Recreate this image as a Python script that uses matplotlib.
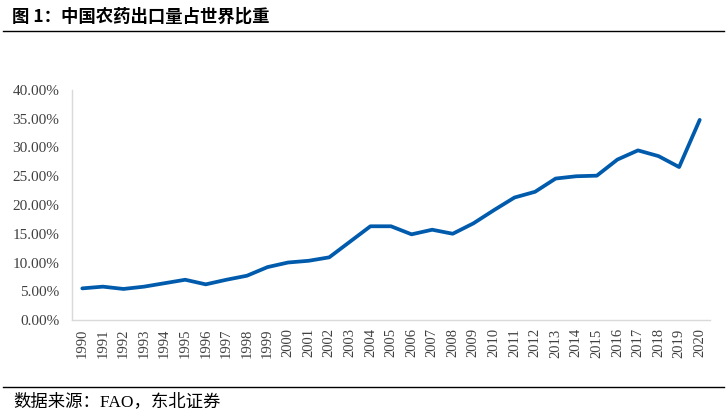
import matplotlib.pyplot as plt
from matplotlib.ticker import FuncFormatter
from matplotlib.lines import Line2D

# ------------------------------------------------------------
# Data: China's share of world pesticide exports (FAO)
# ------------------------------------------------------------
years = list(range(1990, 2021))
share = [5.5, 5.8, 5.4, 5.8, 6.4, 7.0, 6.2, 7.0, 7.7, 9.2,
         10.0, 10.3, 10.9, 13.6, 16.3, 16.3, 14.9, 15.7, 15.0, 16.8,
         19.1, 21.3, 22.3, 24.6, 25.0, 25.1, 27.9, 29.5, 28.5, 26.6,
         34.8]

y_ticks = [0, 5, 10, 15, 20, 25, 30, 35, 40]

title = "图 1：中国农药出口量占世界比重"
source = "数据来源：FAO，东北证券"

cjk = ["Noto Sans CJK SC", "DejaVu Sans"]
serif_cjk = ["Liberation Serif", "Noto Sans CJK SC"]

# ------------------------------------------------------------
# Figure
# ------------------------------------------------------------
fig = plt.figure(figsize=(7.28, 4.13), dpi=100)
ax = fig.add_axes([72 / 728, 1 - 320 / 413, (710 - 72) / 728, (320 - 90) / 413])

ax.plot(years, share, color="#005BAC", linewidth=2.7, solid_capstyle="round")

ax.set_xlim(years[0] - 0.5, years[-1] + 0.5)
ax.set_ylim(0, 40)
ax.set_xticks(years)
ax.set_xticklabels([str(y) for y in years], rotation=90,
                   fontfamily="Liberation Serif", fontsize=10.5, color="#404040")
ax.set_yticks(y_ticks)
ax.yaxis.set_major_formatter(FuncFormatter(lambda v, p: f"{v:.2f}%"))
for lbl in ax.get_yticklabels():
    lbl.set_fontfamily("Liberation Serif")
    lbl.set_fontsize(11)
    lbl.set_color("#404040")

ax.tick_params(axis="both", length=0)
ax.tick_params(axis="y", pad=9)
ax.tick_params(axis="x", pad=6)

for side in ["top", "right"]:
    ax.spines[side].set_visible(False)
for side in ["left", "bottom"]:
    ax.spines[side].set_color("#D9D9D9")
    ax.spines[side].set_linewidth(1.0)

# title and source with separator lines
fig.text(12 / 728, 1 - 17 / 413, title, fontfamily=cjk, fontsize=12.5,
         fontweight="bold", va="center", ha="left")
fig.add_artist(Line2D([3 / 728, 724 / 728], [1 - 31 / 413] * 2,
                      color="black", linewidth=1.0, transform=fig.transFigure))
fig.add_artist(Line2D([3 / 728, 724 / 728], [1 - 387 / 413] * 2,
                      color="black", linewidth=1.0, transform=fig.transFigure))
fig.text(13 / 728, 1 - 402 / 413, source, fontfamily=serif_cjk, fontsize=12.5,
         va="center", ha="left")

plt.savefig("out.png", dpi=100)
